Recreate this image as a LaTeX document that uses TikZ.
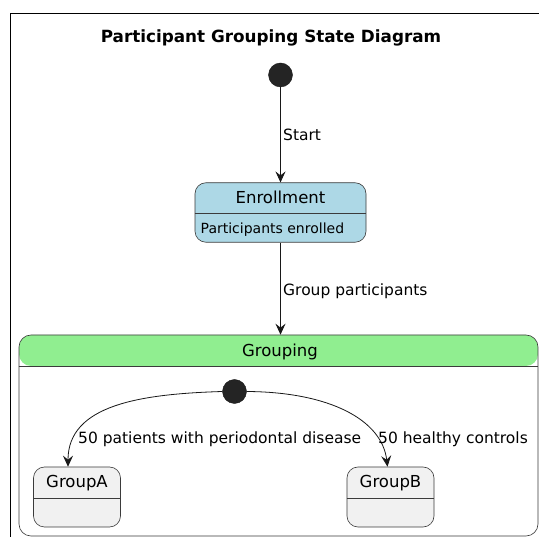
\documentclass[tikz,border=0pt]{standalone}
\usepackage{fontspec}
\setmainfont{DejaVu Sans}
\usetikzlibrary{arrows.meta, calc}
\definecolor{enrollblue}{HTML}{ADD8E6}
\definecolor{groupgreen}{HTML}{90EE90}
\definecolor{stategray}{HTML}{F1F1F1}
\definecolor{linegray}{HTML}{181818}

\begin{document}
\begin{tikzpicture}[x=1pt, y=-1pt,
    statebox/.style={draw=linegray!85, line width=0.6pt, rounded corners=11pt, inner sep=0pt},
    startdot/.style={circle, fill=linegray!95, draw=linegray, minimum size=24pt, inner sep=0pt},
    trans/.style={draw=linegray, line width=0.8pt, -{Stealth[length=11pt, width=10pt, inset=4pt]}},
    statename/.style={font=\fontsize{16.5}{20}\selectfont, anchor=base, inner sep=0pt},
    translabel/.style={font=\fontsize{15.5}{18}\selectfont, anchor=base west, inner sep=0pt}]
  \useasboundingbox (0,0) rectangle (539,537);
  \fill[white] (0,0) rectangle (539,537);
  \draw[line width=1pt] (10,537) -- (10,14) -- (539,14);
  \node[font=\bfseries\fontsize{16.8}{20}\selectfont, anchor=base] (title) at (271,42.5)
    {Participant Grouping State Diagram};
  % outer states
  \node[startdot] (start) at (280.5,75) {};
  \node[statebox, fill=enrollblue, minimum width=171pt, minimum height=59.5pt] (enroll) at (280.5,212.5) {};
  \draw[linegray!85, line width=0.6pt] (enroll.west |- 0,213.3) -- (enroll.east |- 0,213.3);
  \node[statename] (enrollname) at (280.5,203.3) {Enrollment};
  \node[font=\fontsize{14}{17}\selectfont, anchor=base west, inner sep=0pt] (enrolldesc) at (200.5,233.3)
    {Participants enrolled};
  \draw[trans] (start) -- (enroll);
  \node[translabel] (startlabel) at (283,141) {Start};
  % composite state
  \node[statebox, rounded corners=12pt, fill=white, minimum width=519pt, minimum height=201pt,
    path picture={\fill[groupgreen] (path picture bounding box.north west)
      rectangle ([yshift=-31pt]path picture bounding box.north east);}] (grouping) at (278.5,435.5) {};
  \draw[linegray!85, line width=0.6pt] (grouping.west |- 0,366) -- (grouping.east |- 0,366);
  \node[statename] (groupingname) at (280,357) {Grouping};
  \draw[trans] (enroll.south) -- (enroll.south |- grouping.north);
  \node[translabel] (grouplabel) at (283,296) {Group participants};
  % inner states
  \node[startdot] (innerstart) at (234.5,391.5) {};
  \node[statebox, fill=stategray, minimum width=87pt, minimum height=60pt] (groupA) at (77,497) {};
  \draw[linegray!85, line width=0.6pt] (groupA.west |- 0,498) -- (groupA.east |- 0,498);
  \node[statename] (groupAname) at (77,488) {GroupA};
  \node[statebox, fill=stategray, minimum width=87pt, minimum height=60pt] (groupB) at (390.5,497) {};
  \draw[linegray!85, line width=0.6pt] (groupB.west |- 0,498) -- (groupB.east |- 0,498);
  \node[statename] (groupBname) at (390.5,488) {GroupB};
  \draw[trans] (innerstart.west) .. controls (140,394) and (68,405) .. ([xshift=-9pt]groupA.north);
  \draw[trans] (innerstart.east) .. controls (330,392) and (382,420) .. ([xshift=-3pt]groupB.north);
  \node[translabel] (patientslabel) at (78,444) {50 patients with periodontal disease};
  \node[translabel] (controlslabel) at (378,444) {50 healthy controls};
\end{tikzpicture}
\end{document}
